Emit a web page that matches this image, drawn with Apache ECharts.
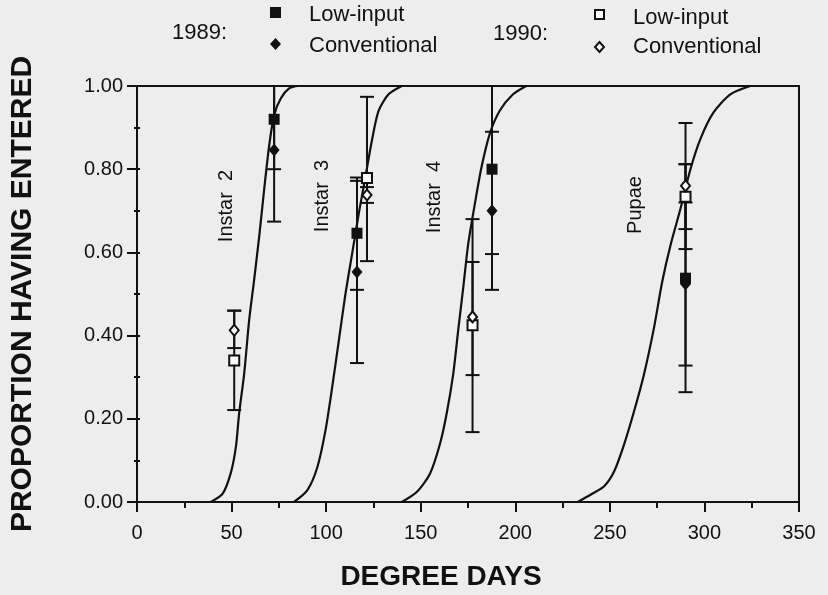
<!DOCTYPE html>
<html>
<head>
<meta charset="utf-8">
<script src="https://cdn.jsdelivr.net/npm/echarts@6/dist/echarts.min.js"></script>
<style>
  html, body { margin: 0; padding: 0; background: #ededed; }
  #chart { width: 828px; height: 595px; }
</style>
</head>
<body>
<div id="chart"></div>
<script>
// fitted cumulative curves: [degree days, proportion]
var instar2Curve = [[39.1, 0], [45.3, 0.02], [49.6, 0.07], [52.3, 0.133], [54, 0.213], [56.7, 0.31], [59.3, 0.437], [61.9, 0.533], [64.6, 0.638], [67.2, 0.75], [69.8, 0.854], [72.5, 0.93], [76, 0.97], [80.4, 0.994], [84.7, 1]]
var instar3Curve = [[83, 0], [90, 0.028], [95.3, 0.083], [99.6, 0.171], [103.2, 0.276], [106.7, 0.388], [110.2, 0.5], [113.7, 0.596], [117.2, 0.692], [120.7, 0.78], [124.2, 0.869], [127.7, 0.94], [133, 0.98], [140, 1]]
var instar4Curve = [[140, 0], [147.9, 0.024], [154.9, 0.068], [160.2, 0.14], [163.7, 0.212], [167.2, 0.308], [169.8, 0.412], [172.5, 0.516], [175.1, 0.62], [178.6, 0.716], [182.1, 0.804], [186.5, 0.885], [191.7, 0.94], [198.8, 0.98], [205.8, 1]]
var pupaeCurve = [[233, 0], [240, 0.018], [247, 0.038], [252.3, 0.074], [257.5, 0.138], [262.8, 0.218], [268, 0.306], [273.3, 0.418], [277.7, 0.53], [282.1, 0.618], [287.4, 0.706], [292.6, 0.8], [297.9, 0.873], [304.9, 0.937], [313.7, 0.98], [324.2, 1]]

// observed points [degree days, proportion] and error limits [low, high]
var lowInput1989 = [[72.5, 0.92], [116.3, 0.646], [187.7, 0.80], [290, 0.538]]
var lowInput1989Err = [[0.80, 1.0], [0.51, 0.78], [0.596, 1.0], [0.264, 0.812]]
var conv1989 = [[72.5, 0.846], [116.3, 0.553], [187.7, 0.70], [290, 0.524]]
var conv1989Err = [[0.674, 1.0], [0.334, 0.772], [0.51, 0.89], [0.328, 0.72]]
var lowInput1990 = [[51.4, 0.34], [121.6, 0.779], [177.4, 0.425], [290, 0.734]]
var lowInput1990Err = [[0.221, 0.46], [0.579, 0.974], [0.168, 0.68], [0.656, 0.812]]
var conv1990 = [[51.4, 0.413], [121.6, 0.738], [177.4, 0.445], [290, 0.76]]
var conv1990Err = [[0.37, 0.46], [0.719, 0.757], [0.305, 0.577], [0.608, 0.911]]

var stageNames = ['Instar  2', 'Instar  3', 'Instar  4', 'Pupae']

var ink = '#111'
var font = 'Liberation Sans, Arial, sans-serif'

function errRows (pts, err) {
  var rows = []
  for (var i = 0; i < pts.length; i++) {
    rows.push([pts[i][0], err[i][0], err[i][1]])
  }
  return rows
}

function renderErr (params, api) {
  var lo = api.coord([api.value(0), api.value(1)])
  var hi = api.coord([api.value(0), api.value(2)])
  var w = 7
  var st = { stroke: ink, lineWidth: 2 }
  return {
    type: 'group',
    children: [
      { type: 'line', shape: { x1: lo[0], y1: lo[1], x2: hi[0], y2: hi[1] }, style: st },
      { type: 'line', shape: { x1: lo[0] - w, y1: lo[1], x2: lo[0] + w, y2: lo[1] }, style: st },
      { type: 'line', shape: { x1: hi[0] - w, y1: hi[1], x2: hi[0] + w, y2: hi[1] }, style: st }
    ]
  }
}

function curve (data) {
  return {
    type: 'line',
    data: data,
    smooth: 0.25,
    symbol: 'none',
    lineStyle: { color: ink, width: 2.2 },
    z: 2
  }
}

function errSeries (pts, err) {
  return {
    type: 'custom',
    renderItem: renderErr,
    data: errRows(pts, err),
    z: 3
  }
}

function dots (data, symbol, size, filled) {
  return {
    type: 'scatter',
    data: data,
    symbol: symbol,
    symbolSize: size,
    itemStyle: filled
      ? { color: ink, opacity: 1 }
      : { color: '#fff', borderColor: ink, borderWidth: 2, opacity: 1 },
    z: 4
  }
}

function stageLabel (text, x, y) {
  return {
    type: 'text',
    x: x,
    y: y,
    rotation: Math.PI / 2,
    style: { text: text, font: '20px ' + font, fill: ink, align: 'center', verticalAlign: 'middle' }
  }
}

function legendText (text, x, y) {
  return {
    type: 'text',
    x: x,
    y: y,
    style: { text: text, font: '22px ' + font, fill: ink, align: 'left', verticalAlign: 'middle' }
  }
}

var myChart = echarts.init(document.getElementById('chart'))
myChart.setOption({
  backgroundColor: '#ededed',
  animation: false,
  grid: {
    left: 134,
    right: 29,
    top: 86,
    bottom: 93,
    show: true,
    borderColor: ink,
    borderWidth: 2,
    backgroundColor: 'transparent'
  },
  xAxis: {
    type: 'value',
    min: 0,
    max: 350,
    interval: 50,
    axisLine: { lineStyle: { color: ink, width: 2 } },
    axisTick: { length: 10, lineStyle: { color: ink, width: 2 } },
    minorTick: { show: true, splitNumber: 2, length: 6, lineStyle: { color: ink, width: 2 } },
    axisLabel: { fontFamily: font, fontSize: 20, color: ink, margin: 21 },
    splitLine: { show: false }
  },
  yAxis: [{
    type: 'value',
    min: 0,
    max: 1,
    interval: 0.2,
    name: 'PROPORTION HAVING ENTERED',
    nameLocation: 'middle',
    nameGap: 99,
    nameRotate: 90,
    nameTextStyle: { fontFamily: font, fontWeight: 'bold', fontSize: 30, color: ink },
    axisLine: { lineStyle: { color: ink, width: 2 } },
    axisTick: { length: 10, lineStyle: { color: ink, width: 2 } },
    axisLabel: {
      fontFamily: font,
      fontSize: 20,
      color: ink,
      margin: 14,
      formatter: function (v) { return v.toFixed(2) }
    },
    splitLine: { show: false }
  }, {
    // inner minor ticks along the left axis
    type: 'value',
    position: 'right',
    offset: -665,
    min: 0,
    max: 1,
    interval: 0.1,
    axisLine: { show: false },
    axisTick: { inside: false, length: 6, lineStyle: { color: ink, width: 2 } },
    axisLabel: { show: false },
    splitLine: { show: false }
  }],
  series: [
    curve(instar2Curve),
    curve(instar3Curve),
    curve(instar4Curve),
    curve(pupaeCurve),
    errSeries(lowInput1989, lowInput1989Err),
    errSeries(conv1989, conv1989Err),
    errSeries(lowInput1990, lowInput1990Err),
    errSeries(conv1990, conv1990Err),
    dots(lowInput1989, 'rect', 11, true),
    dots(conv1989, 'diamond', [11, 13], true),
    dots(lowInput1990, 'rect', 10, false),
    dots(conv1990, 'diamond', [9, 11], false)
  ],
  graphic: [
    stageLabel(stageNames[0], 226, 206),
    stageLabel(stageNames[1], 322, 196),
    stageLabel(stageNames[2], 434, 197),
    stageLabel(stageNames[3], 635, 205),
    {
      type: 'text',
      x: 441,
      y: 577,
      style: { text: 'DEGREE DAYS', font: 'bold 28px ' + font, fill: ink, align: 'center', verticalAlign: 'middle' }
    },
    legendText('1989:', 172, 33),
    { type: 'rect', shape: { x: 270, y: 7, width: 11, height: 11 }, style: { fill: ink } },
    { type: 'polygon', shape: { points: [[275.5, 38], [281, 44], [275.5, 50], [270, 44]] }, style: { fill: ink } },
    legendText('Low-input', 309, 15),
    legendText('Conventional', 309, 46),
    legendText('1990:', 493, 34),
    { type: 'rect', shape: { x: 595, y: 10, width: 9, height: 9 }, style: { fill: '#fff', stroke: ink, lineWidth: 2 } },
    { type: 'polygon', shape: { points: [[599.5, 42], [604, 47], [599.5, 52], [595, 47]] }, style: { fill: '#fff', stroke: ink, lineWidth: 2 } },
    legendText('Low-input', 633, 18),
    legendText('Conventional', 633, 47)
  ]
}, true)
</script>
</body>
</html>
